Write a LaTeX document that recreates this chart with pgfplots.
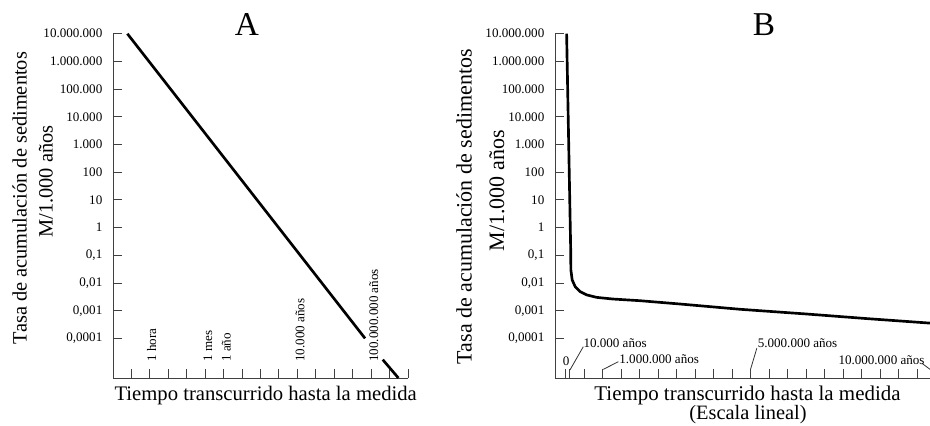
\documentclass[border=0pt]{standalone}
\usepackage{pgfplots}
\pgfplotsset{compat=1.18}
\usepackage{fontspec}
\setmainfont{Liberation Serif}

\begin{document}
\begin{tikzpicture}
\useasboundingbox (0,0) rectangle (697.5pt,318.75pt);

\begin{axis}[
    at={(84.75pt,35.25pt)}, anchor=south west,
    scale only axis, width=221.25pt, height=258.2pt,
    axis x line=bottom, axis y line=left,
    axis line style={-, black!75, line width=0.7pt},
    tick align=inside,
    ymode=log, ymin=3.7e-6, ymax=1e7,
    xmin=0, xmax=16, xtick={1,2,3,4,5,6,7,8,9,10,11,12,13,14,15,16},
    ytick={1e7,1e6,1e5,1e4,1e3,1e2,1e1,1,1e-1,1e-2,1e-3,1e-4},
    yticklabels={10.000.000,1.000.000,100.000,10.000,1.000,100,10,1,{0,1},{0,01},{0,001},{0,0001}},
    yminorticks=false,
    yticklabel style={font=\fontsize{9.8}{11}\selectfont, xshift=-4.5pt},
    xticklabels={},
    major tick length=7pt,
    tick style={black!75, line width=0.7pt},
    clip=false]
\addplot[black, line width=2pt] coordinates {(0.78,1e7) (13.67,1e-4)};
\addplot[black, line width=2pt] coordinates {(14.63,1.7e-5) (15.48,3.7e-6)};
\node[font=\fontsize{9.8}{11}\selectfont, inner sep=0pt, rotate=90, anchor=west] at (axis cs:2.1,1.4e-5) {1 hora};
\node[font=\fontsize{9.8}{11}\selectfont, inner sep=0pt, rotate=90, anchor=west] at (axis cs:5.15,1.4e-5) {1 mes};
\node[font=\fontsize{9.8}{11}\selectfont, inner sep=0pt, rotate=90, anchor=west] at (axis cs:6.15,1.4e-5) {1 año};
\node[font=\fontsize{9.8}{11}\selectfont, inner sep=0pt, rotate=90, anchor=west] at (axis cs:10.15,1.4e-5) {10.000 años};
\node[font=\fontsize{9.8}{11}\selectfont, inner sep=0pt, rotate=90, anchor=west] at (axis cs:14.15,1.4e-5) {100.000.000 años};
\end{axis}

\begin{axis}[
    at={(416.25pt,35.25pt)}, anchor=south west,
    scale only axis, width=281.25pt, height=258.2pt,
    axis x line=bottom, axis y line=left,
    axis line style={-, black!75, line width=0.7pt},
    tick align=inside,
    ymode=log, ymin=3.7e-6, ymax=1e7,
    xmin=-0.284, xmax=9.85,
    xtick={0,0.12,0.5,1,1.5,2,2.5,3,3.5,4,4.5,5,5.5,6,6.5,7,7.5,8,8.5,9,9.5},
    ytick={1e7,1e6,1e5,1e4,1e3,1e2,1e1,1,1e-1,1e-2,1e-3,1e-4},
    yticklabels={10.000.000,1.000.000,100.000,10.000,1.000,100,10,1,{0,1},{0,01},{0,001},{0,0001}},
    yminorticks=false,
    yticklabel style={font=\fontsize{9.8}{11}\selectfont, xshift=-4.5pt},
    xticklabels={},
    major tick length=7pt,
    tick style={black!75, line width=0.7pt},
    clip=false]
\addplot[black, line width=2pt, line join=round] coordinates {
  (0.03,1e7) (0.14,0.158) (0.145,0.0295) (0.18,0.0129) (0.26,0.00741)
  (0.39,0.0049) (0.57,0.00372) (0.84,0.00302) (1.28,0.00263) (2.01,0.00229)
  (3.09,0.00174) (4.72,0.00112) (6.5,0.00076) (8.2,0.00051) (9.85,0.000355)};
\node[font=\fontsize{9.8}{11}\selectfont, inner sep=0pt, anchor=center] at (axis cs:0.014,1.44e-5) {0};
\draw[black!80, line width=0.6pt] (axis cs:0.12,7.2e-6) -- (axis cs:0.48,5.0e-5);
\node[font=\fontsize{9.8}{11}\selectfont, inner sep=0pt, anchor=west] at (axis cs:0.48,6.6e-5) {10.000 años};
\draw[black!80, line width=0.6pt] (axis cs:1.02,7.6e-6) -- (axis cs:1.43,1.44e-5);
\node[font=\fontsize{9.8}{11}\selectfont, inner sep=0pt, anchor=west] at (axis cs:1.45,1.78e-5) {1.000.000 años};
\draw[black!80, line width=0.6pt] (axis cs:5.0,7.6e-6) -- (axis cs:5.17,4.4e-5);
\node[font=\fontsize{9.8}{11}\selectfont, inner sep=0pt, anchor=west] at (axis cs:5.19,6.9e-5) {5.000.000 años};
\draw[black!80, line width=0.6pt] (axis cs:9.63,1.26e-5) -- (axis cs:9.85,7.6e-6);
\node[font=\fontsize{9.8}{11}\selectfont, inner sep=0pt, anchor=west] at (axis cs:7.37,1.66e-5) {10.000.000 años};
\end{axis}

\node[font=\fontsize{25}{30}\selectfont, anchor=base] at (185.25pt,291.75pt) {A};
\node[font=\fontsize{25}{30}\selectfont, anchor=base] at (573pt,291.75pt) {B};

\node[font=\fontsize{15.3}{18}\selectfont, rotate=90, anchor=base] at (20pt,170.25pt) {Tasa de acumulación de sedimentos};
\node[font=\fontsize{15.3}{18}\selectfont, rotate=90, anchor=base] at (39.5pt,182.5pt) {M/1.000 años};
\node[font=\fontsize{16.5}{19}\selectfont, rotate=90, anchor=base] at (353.8pt,163.7pt) {Tasa de acumulación de sedimentos};
\node[font=\fontsize{16.5}{19}\selectfont, rotate=90, anchor=base] at (378pt,175.6pt) {M/1.000 años};

\node[font=\fontsize{15.5}{18}\selectfont, anchor=base] at (199.3pt,18.75pt) {Tiempo transcurrido hasta la medida};
\node[font=\fontsize{15.7}{18}\selectfont, anchor=base, inner sep=1pt] at (560.6pt,18.3pt) {Tiempo transcurrido hasta la medida};
\node[font=\fontsize{15.3}{18}\selectfont, anchor=base, inner sep=1pt] at (561pt,4.0pt) {(Escala lineal)};
\end{tikzpicture}
\end{document}
